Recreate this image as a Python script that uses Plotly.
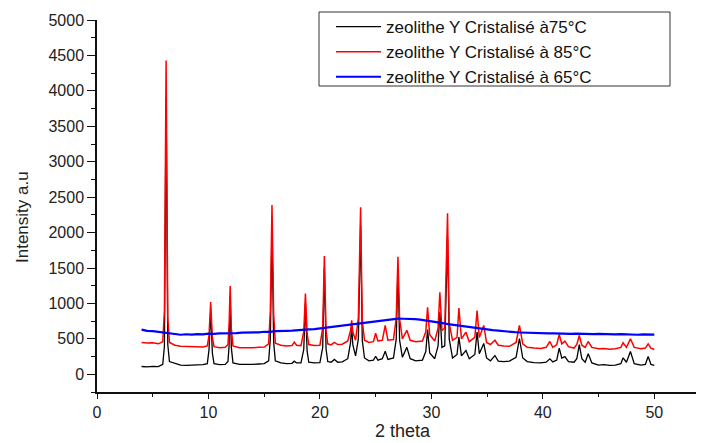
import plotly.graph_objects as go

# ---- data ----
two_theta = [
    4.0, 4.5, 5.0, 5.5, 5.9, 6.05, 6.2, 6.35, 6.5, 7.0,
    7.5, 8.0, 8.5, 9.0, 9.5, 9.9, 10.05, 10.2, 10.35, 10.5,
    11.0, 11.5, 11.75, 11.85, 11.95, 12.05, 12.2, 12.8, 13.5, 14.0,
    14.5, 15.0, 15.4, 15.55, 15.7, 15.85, 16.0, 16.5, 17.0, 17.5,
    17.7, 17.9, 18.3, 18.55, 18.7, 18.85, 19.0, 19.5, 20.0, 20.25,
    20.4, 20.55, 20.7, 21.0, 21.3, 21.6, 22.0, 22.5, 22.75, 22.85,
    22.95, 23.2, 23.45, 23.65, 23.8, 24.0, 24.4, 24.8, 25.0, 25.2,
    25.6, 25.86, 26.1, 26.6, 26.85, 27.0, 27.15, 27.4, 27.8, 28.1,
    28.6, 29.2, 29.5, 29.66, 29.85, 30.3, 30.6, 30.76, 30.95, 31.2,
    31.45, 31.6, 31.9, 32.3, 32.47, 32.7, 33.1, 33.4, 33.9, 34.1,
    34.3, 34.7, 34.95, 35.3, 35.7, 36.0, 36.5, 37.0, 37.6, 37.9,
    38.2, 38.6, 39.2, 39.8, 40.3, 40.63, 40.9, 41.25, 41.47, 41.7,
    41.98, 42.3, 42.8, 43.05, 43.27, 43.5, 43.8, 44.07, 44.4, 45.0, 45.5,
    46.0, 46.5, 47.0, 47.2, 47.5, 47.86, 48.2, 48.8, 49.2, 49.45,
    49.7, 50.0,
]

intensity_75 = [
    110, 105, 112, 108, 140, 400, 3900, 420, 180, 150,
    130, 125, 130, 128, 135, 150, 350, 900, 300, 150,
    135, 140, 180, 400, 1100, 380, 160, 140, 135, 140,
    145, 150, 190, 500, 2100, 450, 190, 160, 150, 155,
    185, 160, 160, 350, 1000, 330, 170, 160, 165, 380,
    1500, 360, 180, 170, 210, 170, 175, 220, 450, 680,
    420, 260, 500, 2100, 480, 230, 190, 200, 255, 200,
    220, 325, 210, 230, 500, 1500, 480, 240, 380, 220,
    190, 200, 320, 630, 300, 220, 400, 880, 380, 400,
    1940, 500, 230, 280, 525, 260, 335, 220, 280, 595,
    290, 435, 230, 190, 265, 185, 180, 185, 240, 505,
    230, 180, 165, 160, 170, 218, 175, 200, 368, 230,
    250, 180, 170, 220, 420, 220, 170, 289, 160, 130, 135,
    125, 130, 150, 232, 170, 321, 150, 130, 140, 250,
    140, 125,
]

intensity_85 = [
    450, 440, 445, 430, 460, 900, 4430, 800, 450, 410,
    395, 390, 385, 380, 385, 400, 550, 1020, 520, 390,
    375, 380, 420, 700, 1246, 650, 400, 375, 370, 375,
    380, 385, 430, 900, 2390, 850, 440, 410, 400, 405,
    455, 410, 405, 600, 1140, 580, 420, 405, 410, 650,
    1670, 620, 430, 415, 450, 420, 425, 470, 620, 760,
    600, 480, 800, 2357, 760, 480, 450, 460, 580, 470,
    480, 690, 480, 490, 800, 1657, 780, 500, 620, 480,
    460, 470, 600, 945, 560, 470, 650, 1157, 620, 650,
    2272, 720, 480, 520, 935, 500, 595, 460, 520, 900,
    520, 690, 450, 420, 480, 410, 400, 395, 450, 690,
    430, 380, 370, 365, 380, 463, 380, 420, 562, 430,
    467, 390, 370, 420, 548, 410, 380, 463, 380, 360, 365,
    355, 360, 380, 445, 380, 501, 380, 360, 370, 430,
    370, 350,
]

two_theta_65 = [
    4.0, 4.5, 5.0, 5.5, 6.0, 6.5, 7.0, 7.5, 8.0, 8.5, 9.0, 9.5,
    10.0, 10.5, 11.0, 11.5, 12.0, 12.5, 13.0, 13.5, 14.0, 14.5,
    15.0, 15.5, 16.0, 16.5, 17.0, 17.5, 18.0, 18.5, 19.0, 19.5,
    20.0, 20.5, 21.0, 21.5, 22.0, 22.5, 23.0, 23.5, 24.0, 24.5,
    25.0, 25.5, 26.0, 26.5, 27.0, 27.5, 28.0, 28.5, 29.0, 29.5,
    30.0, 30.5, 31.0, 31.5, 32.0, 32.5, 33.0, 33.5, 34.0, 34.5,
    35.0, 35.5, 36.0, 36.5, 37.0, 37.5, 38.0, 38.5, 39.0, 39.5,
    40.0, 40.5, 41.0, 41.5, 42.0, 42.5, 43.0, 43.5, 44.0, 44.5,
    45.0, 45.5, 46.0, 46.5, 47.0, 47.5, 48.0, 48.5, 49.0, 49.5, 50.0,
]

intensity_65 = [
    630, 612, 608, 596, 585, 572, 566, 558, 565, 560, 568, 563,
    574, 570, 578, 576, 584, 580, 588, 586, 594, 592,
    600, 598, 608, 606, 614, 615, 624, 626, 634, 638,
    648, 654, 662, 672, 684, 692, 704, 714, 728, 738,
    752, 760, 772, 778, 786, 784, 786, 778, 772, 762,
    752, 736, 722, 708, 696, 684, 672, 660, 650, 640,
    632, 622, 616, 606, 600, 594, 590, 586, 585, 580,
    582, 576, 578, 572, 576, 570, 574, 568, 572, 566,
    570, 564, 568, 562, 566, 560, 564, 558, 562, 556, 560,
]

series_names = [
    "zeolithe Y Cristalisé à75°C",
    "zeolithe Y Cristalisé à 85°C",
    "zeolithe Y Cristalisé à 65°C",
]

assert len(two_theta) == len(intensity_75) == len(intensity_85)
assert len(two_theta_65) == len(intensity_65)

FONT = "Liberation Sans, Arial, sans-serif"

fig = go.Figure()
fig.add_trace(go.Scatter(x=two_theta, y=intensity_75, mode="lines", name=series_names[0],
                         line=dict(color="#000000", width=1.3)))
fig.add_trace(go.Scatter(x=two_theta, y=intensity_85, mode="lines", name=series_names[1],
                         line=dict(color="#ff0000", width=1.5)))
fig.add_trace(go.Scatter(x=two_theta_65, y=intensity_65, mode="lines", name=series_names[2],
                         line=dict(color="#0000ff", width=2.2)))

# page is offset by the default 8px body margin
OFF = 8
W, H = 704 - OFF, 443 - OFF
L, R, T, B = 97 - OFF, 0, 20 - OFF, 51
pw, ph = W - L - R, H - T - B


def px_x(p):  # page pixel -> paper x
    return (p - OFF - L) / pw


def px_y(p):  # page pixel -> paper y
    return (H - B - (p - OFF)) / ph


fig.update_layout(
    width=W, height=H,
    margin=dict(l=L, r=R, t=T, b=B, pad=0, autoexpand=False),
    paper_bgcolor="white", plot_bgcolor="white",
    font=dict(family=FONT, color="#222222", size=16),
    showlegend=True,
    legend=dict(
        x=px_x(331), y=px_y(9), xanchor="left", yanchor="top",
        bgcolor="rgba(255,255,255,0)", borderwidth=0,
        font=dict(family=FONT, size=17, color="#111111"),
        itemwidth=45, tracegroupgap=0,
    ),
    xaxis=dict(
        range=[0, 54.46], showgrid=False, zeroline=False, automargin=False,
        showline=True, linecolor="#111111", linewidth=1.5,
        tickmode="linear", tick0=0, dtick=10,
        ticks="outside", ticklen=5, tickwidth=1.2, tickcolor="#111111",
        minor=dict(dtick=5, ticks="outside", ticklen=3, tickwidth=1.2, tickcolor="#111111"),
        tickfont=dict(family=FONT, size=16, color="#222222"),
    ),
    yaxis=dict(
        range=[-250, 5000], showgrid=False, zeroline=False, automargin=False,
        showline=True, linecolor="#111111", linewidth=1.5,
        tickmode="linear", tick0=0, dtick=500,
        ticks="outside", ticklen=8, tickwidth=1.2, tickcolor="#111111",
        minor=dict(dtick=250, ticks="outside", ticklen=4, tickwidth=1.2, tickcolor="#111111"),
        tickfont=dict(family=FONT, size=16, color="#222222"),
    ),
    shapes=[dict(type="rect", xref="paper", yref="paper",
                 x0=px_x(319), x1=px_x(670), y0=px_y(86), y1=px_y(12),
                 line=dict(color="#333333", width=1), fillcolor="rgba(0,0,0,0)")],
    annotations=[
        dict(text="2 theta", xref="paper", yref="paper", x=px_x(403), y=px_y(431),
             xanchor="center", yanchor="middle", showarrow=False,
             font=dict(family=FONT, size=18, color="#222222")),
        dict(text="Intensity a.u", xref="paper", yref="paper", x=px_x(22), y=px_y(217),
             xanchor="center", yanchor="middle", showarrow=False, textangle=-90,
             font=dict(family=FONT, size=17, color="#222222")),
    ],
)

fig.write_html("out.html")
